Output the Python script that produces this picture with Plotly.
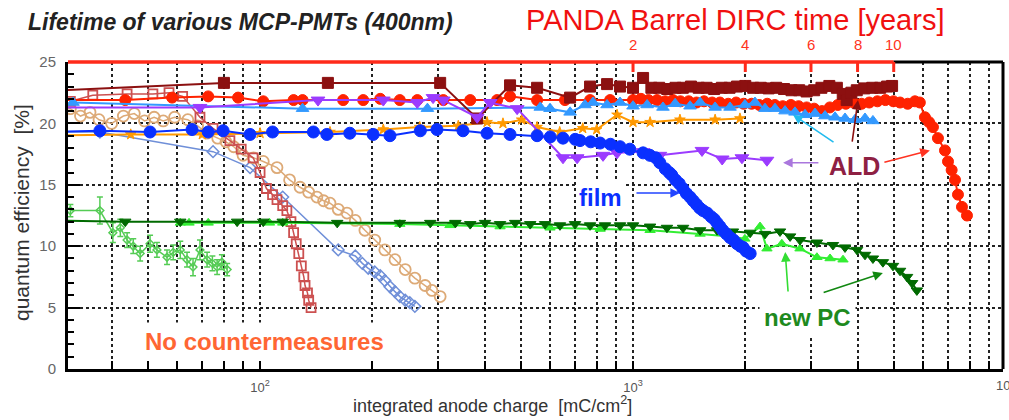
import math
import plotly.graph_objects as go

# ---------------- data (x: integrated anode charge [mC/cm^2], y: QE [%]) ----------------
ALD_DARK_X = [25, 80, 152, 304, 382, 468, 553, 678, 767, 852, 923, 1000, 1064, 1120, 1175, 1235, 1300,
              1360, 1430, 1500, 1575, 1650, 1730, 1815, 1900, 2000, 2100, 2200, 2310, 2420, 2540, 2660,
              2790, 2920, 3060, 3200, 3360, 3520, 3650, 3740, 3850, 3980, 4170, 4380, 4600, 4800, 4950]
ALD_DARK_Y = [22.6, 23.3, 23.3, 23.3, 20.4, 23.1, 22.9, 22.1, 23.0, 23.2, 23.0, 22.9, 23.7, 22.9, 22.9,
              22.8, 22.9, 22.9, 23.0, 22.9, 22.9, 22.8, 22.9, 22.9, 23.0, 23.05, 22.9, 22.9, 22.85, 22.9,
              22.8, 22.7, 22.7, 22.6, 22.7, 22.9, 23.05, 22.9, 22.4, 21.9, 22.5, 22.7, 22.85, 22.9, 22.9,
              23.0, 23.05]

ALD_RED_X = [25, 43.5, 58.1, 72.6, 87.3, 102, 123, 130, 167, 189, 210, 237, 264, 310, 366, 432, 468, 553,
             657, 767, 868, 1000, 1050, 1100, 1160, 1220, 1280, 1340, 1410, 1480, 1550, 1630, 1710, 1800,
             1890, 1980, 2080, 2180, 2290, 2400, 2520, 2650, 2780, 2920, 3060, 3210, 3370, 3540, 3720,
             3900, 4100, 4300, 4520, 4750, 4990, 5200, 5450, 5700, 5875, 6063, 6220, 6370, 6570, 6862,
             6991, 7150, 7300, 7434, 7620, 7860]
ALD_RED_Y = [21.9, 21.9, 22.1, 22.2, 22.1, 21.8, 21.9, 21.9, 21.9, 21.9, 22.0, 21.9, 21.9, 21.9, 21.9,
             21.9, 22.2, 21.9, 21.9, 21.9, 21.9, 21.9, 22.0, 21.9, 21.9, 21.8, 21.9, 21.8, 21.8, 21.7,
             21.8, 21.7, 21.7, 21.6, 21.7, 21.6, 21.6, 21.5, 21.6, 21.5, 21.4, 21.5, 21.4, 21.3, 21.2,
             21.0, 21.3, 21.5, 21.6, 21.7, 21.6, 21.7, 21.8, 21.9, 21.8, 21.7, 21.6, 21.8, 21.7, 20.5,
             20.1, 19.7, 18.8, 17.8, 16.9, 16.2, 15.4, 14.2, 13.2, 12.5]

ALD_BLUE_X = [31.5, 130, 281, 564, 599, 678, 743, 781, 852, 923, 1000, 1091, 1203, 1297, 1422, 1513, 1660,
              1820, 1995, 2123, 2259, 2403, 2556, 2718, 2892, 3076, 3272, 3480, 3702, 3938, 4188, 4398]
ALD_BLUE_Y = [21.7, 21.2, 21.2, 21.3, 21.2, 20.9, 21.5, 21.7, 21.5, 21.7, 21.4, 21.5, 21.3, 21.6, 21.4,
              21.7, 21.3, 21.3, 21.5, 21.7, 21.2, 21.2, 21.0, 20.9, 20.7, 20.8, 20.6, 20.5, 20.4, 20.3,
              20.4, 20.2]

ALD_PURPLE_X = [25, 69, 143, 214, 264, 291, 310, 382, 414, 489, 649, 708, 831, 906, 1064, 1180, 1531,
                1734, 1959, 2286]
ALD_PURPLE_Y = [21.3, 21.3, 21.9, 21.9, 21.7, 22.1, 21.9, 20.5, 21.7, 21.2, 17.2, 17.2, 17.4, 17.6, 17.7,
                17.4, 17.8, 17.1, 17.2, 17.0]

ORANGE_X = [25, 45, 70, 100, 154, 214, 268, 340, 406, 448, 503, 553, 636, 733, 799, 906, 1000, 1111, 1336,
            1660, 1935]
ORANGE_Y = [19.0, 19.1, 19.1, 19.2, 19.3, 19.5, 19.7, 19.8, 20.1, 20.0, 20.3, 19.7, 19.3, 19.6, 19.5, 20.7,
            20.1, 20.1, 20.3, 20.3, 20.4]

FILM_X = [25, 37.2, 50.7, 65.7, 72.6, 79.6, 94, 108, 139, 151, 174, 201, 223, 269, 298, 350, 406, 468,
          553, 600, 649, 700, 721, 770, 816, 870, 923, 980, 1064, 1110, 1150, 1180, 1220, 1250, 1270, 1300,
          1330, 1360, 1390, 1422, 1450, 1480, 1510, 1540, 1580, 1620, 1650, 1680, 1710, 1740, 1780, 1820,
          1860, 1900, 1940, 1973, 2010, 2061]
FILM_Y = [19.3, 19.4, 19.3, 19.5, 19.3, 19.4, 19.1, 19.3, 19.3, 19.1, 19.2, 19.1, 19.0, 19.4, 19.5, 19.4,
          19.2, 19.1, 19.0, 18.9, 18.8, 18.7, 18.6, 18.5, 18.4, 18.3, 18.1, 17.9, 17.6, 17.4, 17.2, 16.8,
          16.3, 16.0, 15.8, 15.4, 15.1, 14.7, 14.3, 14.0, 13.7, 13.4, 13.1, 12.9, 12.7, 12.4, 12.2, 11.9,
          11.6, 11.3, 11.0, 10.7, 10.5, 10.2, 10.0, 9.9, 9.6, 9.4]

NC_BLUE_X = [25, 37.2, 74.8, 94, 115, 162, 180, 188, 195, 203, 210, 216, 223, 230, 237, 245, 252, 260]
NC_BLUE_Y = [19.3, 19.3, 17.7, 16.4, 14.0, 9.7, 9.2, 8.6, 8.2, 7.9, 7.6, 7.2, 6.7, 6.3, 5.9, 5.6, 5.4, 5.1]

NC_TAN_X = [25, 31, 33, 35, 37, 40, 43, 46, 49, 52, 55, 59, 64, 68, 72, 77, 81, 85, 90, 96, 102, 111, 120,
            128, 135, 142, 148, 154, 162, 171, 180, 191, 203, 216, 230, 245, 260, 277, 289, 304]
NC_TAN_Y = [21.0, 21.2, 20.6, 20.9, 20.3, 20.0, 20.6, 20.8, 20.2, 20.5, 20.2, 20.5, 20.3, 19.8, 19.2, 18.8,
            18.5, 18.1, 17.4, 17.2, 16.9, 16.4, 15.4, 14.8, 14.4, 14.0, 13.7, 13.5, 13.0, 12.7, 12.1, 11.3,
            10.5, 9.7, 8.9, 8.1, 7.4, 6.8, 6.4, 5.9]

NC_RED_X = [31, 35.6, 44, 51.6, 57, 62, 69, 74.8, 83, 89, 95.8, 100, 104, 108, 111, 115, 118, 121, 123, 125,
            127, 129, 131, 132, 134, 135, 137]
NC_RED_Y = [21.8, 22.3, 22.4, 22.4, 22.5, 22.2, 20.5, 19.6, 18.6, 17.9, 17.2, 16.0, 14.7, 14.2, 13.8, 13.3,
            12.9, 12.0, 11.1, 10.2, 9.4, 8.4, 7.5, 6.8, 6.2, 5.6, 5.0]

OLD_PC_X = [31, 37.2, 40.3, 42.2, 44.0, 45.7, 47.7, 50.7, 52.9, 56.3, 58.5, 61.1, 63.7, 66.1, 69.0, 72.1,
            74.5, 76.7, 79, 81.6]
OLD_PC_Y = [12.9, 12.9, 11.1, 11.5, 10.5, 10.0, 9.4, 10.2, 9.7, 9.1, 9.5, 9.7, 8.9, 8.3, 9.7, 8.9, 8.6, 8.3,
            8.7, 8.1]
OLD_PC_ERR = [0.5, 1.1, 0.8, 0.7, 0.6, 0.6, 0.6, 0.7, 0.6, 0.6, 0.6, 0.7, 0.6, 0.7, 0.8, 0.6, 0.6, 0.6, 0.6,
              0.5]

NEWPC_DARK_X = [25, 43.5, 61.1, 86.8, 102, 115, 161, 237, 286, 334, 366, 401, 440, 483, 530, 581, 637, 699,
                767, 841, 923, 1000, 1111, 1233, 1362, 1513, 1680, 1853, 2061, 2259, 2478, 2637, 2803, 3112,
                3436, 3702, 3988, 4188, 4398, 4677, 4977, 5199, 5429, 5600, 5768]
NEWPC_DARK_Y = [12.1, 12.0, 12.0, 12.0, 12.0, 12.0, 11.9, 11.9, 11.9, 11.9, 11.8, 11.9, 11.8, 11.9, 11.8,
                11.8, 11.7, 11.8, 11.7, 11.7, 11.7, 11.7, 11.6, 11.5, 11.5, 11.3, 11.3, 11.2, 11.1, 11.0,
                11.2, 10.8, 10.5, 10.3, 10.1, 9.9, 9.7, 9.3, 9.0, 8.7, 8.4, 8.0, 7.5, 7.0, 6.4]

NEWPC_LIGHT_X = [61.1, 64.5, 72.6, 106, 115, 237, 323, 440, 599, 816, 1111, 1513, 1820, 1995, 2190, 2286,
                 2506, 2803, 3112, 3375, 3656]
NEWPC_LIGHT_Y = [11.9, 11.9, 11.9, 11.9, 11.9, 11.8, 11.7, 11.6, 11.5, 11.4, 11.3, 11.0, 10.8, 10.6, 11.6,
                 9.8, 10.2, 9.8, 9.1, 9.0, 8.9]

PANDA_YEARS = [2, 4, 6, 8, 10]
CHARGE_PER_YEAR = 500  # mC/cm^2 per PANDA year

X_TICKS = [40, 50, 60, 70, 80, 90, 100, 200, 300, 400, 500, 600, 700, 800, 900, 1000,
           2000, 3000, 4000, 5000, 6000, 7000, 8000, 9000]
X_TICK_TEXT = {100: "10<sup>2</sup>", 1000: "10<sup>3</sup>"}

# ---------------- figure ----------------
XR = [1.485, 3.992]
FONT = "Liberation Sans, Arial, sans-serif"


def xfrac(v):
    return (math.log10(v) - XR[0]) / (XR[1] - XR[0])


fig = go.Figure()


def add(x, y, color, symbol, size, lw=2, mlw=1, err=None):
    fig.add_trace(go.Scatter(
        x=x, y=y, mode="lines+markers",
        line=dict(color=color, width=lw),
        marker=dict(color=color, symbol=symbol, size=size, line=dict(color=color, width=mlw)),
        error_y=(dict(type="data", array=err, color=color, thickness=1.5, width=3) if err else None),
        hoverinfo="skip", showlegend=False))


add(OLD_PC_X, OLD_PC_Y, "#55CC55", "diamond-open", 6, lw=1.5, mlw=1.5, err=OLD_PC_ERR)
add(NC_BLUE_X, NC_BLUE_Y, "#6F8FD8", "diamond-open", 9, lw=1.5, mlw=1.5)
add(NC_TAN_X, NC_TAN_Y, "#DDAA77", "circle-open", 11, lw=1.5, mlw=1.8)
add(NC_RED_X, NC_RED_Y, "#CC5050", "square-open", 9, lw=1.5, mlw=1.8)
add(NEWPC_LIGHT_X, NEWPC_LIGHT_Y, "#33EE33", "triangle-up", 9)
add(NEWPC_DARK_X, NEWPC_DARK_Y, "#006A00", "triangle-down", 10)
add(ORANGE_X, ORANGE_Y, "#FF9900", "star", 8)
add(ALD_RED_X, ALD_RED_Y, "#FF2200", "circle", 11)
add(ALD_BLUE_X, ALD_BLUE_Y, "#3399FF", "triangle-up", 11)
add(ALD_DARK_X, ALD_DARK_Y, "#8C1010", "square", 11)
add(ALD_PURPLE_X, ALD_PURPLE_Y, "#9B3BFF", "triangle-down", 12)
add(FILM_X, FILM_Y, "#0A30FF", "circle", 12)

# ---------------- frame: top (PANDA years) and right ----------------
shapes = []
x10 = xfrac(PANDA_YEARS[-1] * CHARGE_PER_YEAR)
shapes.append(dict(type="line", xref="paper", yref="paper", x0=0, x1=x10, y0=1, y1=1,
                   line=dict(color="#FF2A1A", width=3.5)))
shapes.append(dict(type="line", xref="paper", yref="paper", x0=x10, x1=1, y0=1, y1=1,
                   line=dict(color="black", width=3)))
shapes.append(dict(type="line", xref="paper", yref="paper", x0=1, x1=1, y0=0, y1=1,
                   line=dict(color="black", width=3)))
annotations = []
for yr in PANDA_YEARS:
    xf = xfrac(yr * CHARGE_PER_YEAR)
    shapes.append(dict(type="line", xref="paper", yref="paper", x0=xf, x1=xf, y0=1, y1=1 - 10 / 307,
                       line=dict(color="#FF2A1A", width=3)))
    annotations.append(dict(xref="paper", yref="paper", x=xf, y=1 + 17 / 307, text=str(yr),
                            showarrow=False, font=dict(family=FONT, size=15, color="#FF3322"),
                            xanchor="center", yanchor="middle"))

# chart-level texts
annotations.append(dict(xref="paper", yref="paper", x=(524 - 68) / 935, y=(369 - 20) / 307,
                        text="PANDA Barrel DIRC time [years]", showarrow=False, xanchor="left",
                        yanchor="middle", font=dict(family=FONT, size=29, color="#F01010")))
annotations.append(dict(xref="paper", yref="paper", x=(21 - 68) / 935, y=(369 - 213) / 307,
                        text="quantum efficiency  [%]", textangle=-90, showarrow=False,
                        xanchor="center", yanchor="middle", font=dict(family=FONT, size=21, color="#333333")))
annotations.append(dict(xref="paper", yref="paper", x=(492 - 68) / 935, y=(369 - 404) / 307,
                        text="integrated anode charge  [mC/cm<sup>2</sup>]", showarrow=False,
                        xanchor="center", yanchor="middle", font=dict(family=FONT, size=18, color="#333333")))
annotations.append(dict(xref="paper", yref="paper", x=(1006 - 68) / 935, y=(369 - 385) / 307,
                        text="10<sup>4</sup>", showarrow=False, xanchor="center", yanchor="middle",
                        font=dict(family=FONT, size=13, color="#555555")))


def label(x, y, text, color, size, pad=2):
    annotations.append(dict(x=math.log10(x), y=y, text="<b>" + text + "</b>", showarrow=False,
                            font=dict(family=FONT, size=size, color=color), bgcolor="white",
                            borderpad=pad, xanchor="center", yanchor="middle"))


def arrow(x_tail, y_tail, x_head, y_head, color):
    annotations.append(dict(x=math.log10(x_head), y=y_head, ax=math.log10(x_tail), ay=y_tail,
                            axref="x", ayref="y", text="", showarrow=True, arrowhead=2,
                            arrowsize=1.2, arrowwidth=1.6, arrowcolor=color))


label(820, 14.0, "film", "#0A30FF", 24)
arrow(1012, 14.33, 1336, 14.33, "#2244FF")
label(3935, 16.5, "ALD", "#8E2043", 25)
arrow(3480, 18.4, 2685, 20.7, "#22BBEE")
arrow(3865, 18.4, 4010, 21.9, "#8C1010")
arrow(4677, 16.8, 6250, 17.8, "#FF3322")
arrow(3170, 16.8, 2525, 16.8, "#AA77DD")
label(2945, 4.2, "new PC", "#1E8A1E", 24, pad=4)
arrow(2606, 6.19, 2559, 9.53, "#33DD33")
arrow(3214, 6.19, 4677, 7.82, "#118811")
label(103, 2.2, "No countermeasures", "#FF6633", 24, pad=5)

fig.update_layout(
    width=1009, height=420,
    margin=dict(l=68, r=6, t=62, b=51),
    paper_bgcolor="white", plot_bgcolor="white",
    showlegend=False,
    font=dict(family=FONT, color="#555555"),
    title=dict(text="<b><i>Lifetime of various MCP-PMTs (400nm)</i></b>", x=28 / 1009, xanchor="left",
               y=1 - 22 / 420, yanchor="middle", font=dict(family=FONT, size=23, color="#222222")),
    shapes=shapes, annotations=annotations,
    xaxis=dict(type="log", range=XR, tickmode="array", tickvals=X_TICKS,
               ticktext=[X_TICK_TEXT.get(v, "") for v in X_TICKS],
               showgrid=True, gridcolor="#222222", griddash="dot", gridwidth=1.5,
               ticks="inside", ticklen=8, tickwidth=2, tickcolor="black",
               showline=True, linecolor="black", linewidth=3, zeroline=False,
               tickfont=dict(family=FONT, size=13, color="#555555"), ticklabelstandoff=4),
    yaxis=dict(range=[0, 25], tickmode="linear", tick0=0, dtick=5,
               showgrid=True, gridcolor="#222222", griddash="dot", gridwidth=1.5,
               ticks="inside", ticklen=12, tickwidth=2, tickcolor="black",
               minor=dict(dtick=1, ticks="inside", ticklen=6, tickwidth=2, tickcolor="black", showgrid=False),
               showline=True, linecolor="black", linewidth=3, zeroline=False,
               tickfont=dict(family=FONT, size=15, color="#666666"), ticklabelstandoff=6),
)

fig.write_html("out.html", config={"displayModeBar": False},
               post_script="document.body.style.margin='0px';")
